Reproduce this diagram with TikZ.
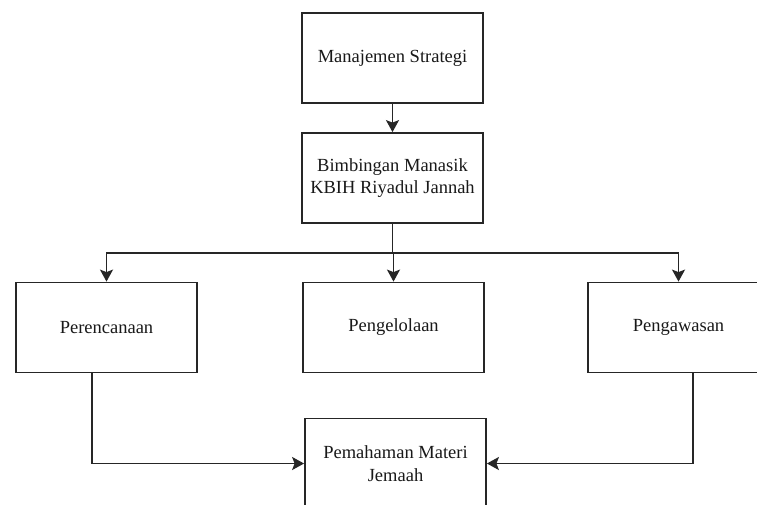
\documentclass[tikz,border=0pt]{standalone}
\usepackage{fontspec}
\setmainfont{Liberation Serif}
\usetikzlibrary{arrows.meta}
\begin{document}
\begin{tikzpicture}[x=1pt,y=-1pt,
  box/.style={draw=black!85, line width=1.8pt, minimum width=181pt, minimum height=90pt, inner sep=0pt, align=center, font=\fontsize{18.5}{22.5}\selectfont, text=black!90},
  conn/.style={draw=black!85, line width=1.8pt},
  arr/.style={conn, -{Stealth[length=12pt,width=13pt,inset=2.5pt]}}]
\useasboundingbox (0,0) rectangle (757,504);
\clip (0,0) rectangle (757,504);
\fill[white] (0,0) rectangle (757,504);
\node[box] (A) at (392.5,58) {Manajemen Strategi};
\node[box] (B) at (392.5,178) {Bimbingan Manasik\\KBIH Riyadul Jannah};
\node[box] (C) at (106.5,327.5) {Perencanaan};
\node[box] (D) at (393.5,327.5) {Pengelolaan};
\node[box] (E) at (678.5,327.5) {Pengawasan};
\node[box] (F) at (395.5,463.5) {Pemahaman Materi\\Jemaah};
\coordinate (J) at (392.5,253);
\coordinate (Cs) at ([xshift=-14.5pt]C.south);
\coordinate (Es) at ([xshift=14.5pt]E.south);
\draw[arr] (A) -- (B);
\draw[conn] (B) -- (J);
\draw[arr] (J) -- (J -| D.north) -- (D.north);
\draw[arr] (J) -| (C.north);
\draw[arr] (J) -| (E.north);
\draw[arr] (Cs) |- (F.west);
\draw[arr] (Es) |- (F.east);
\end{tikzpicture}
\end{document}
